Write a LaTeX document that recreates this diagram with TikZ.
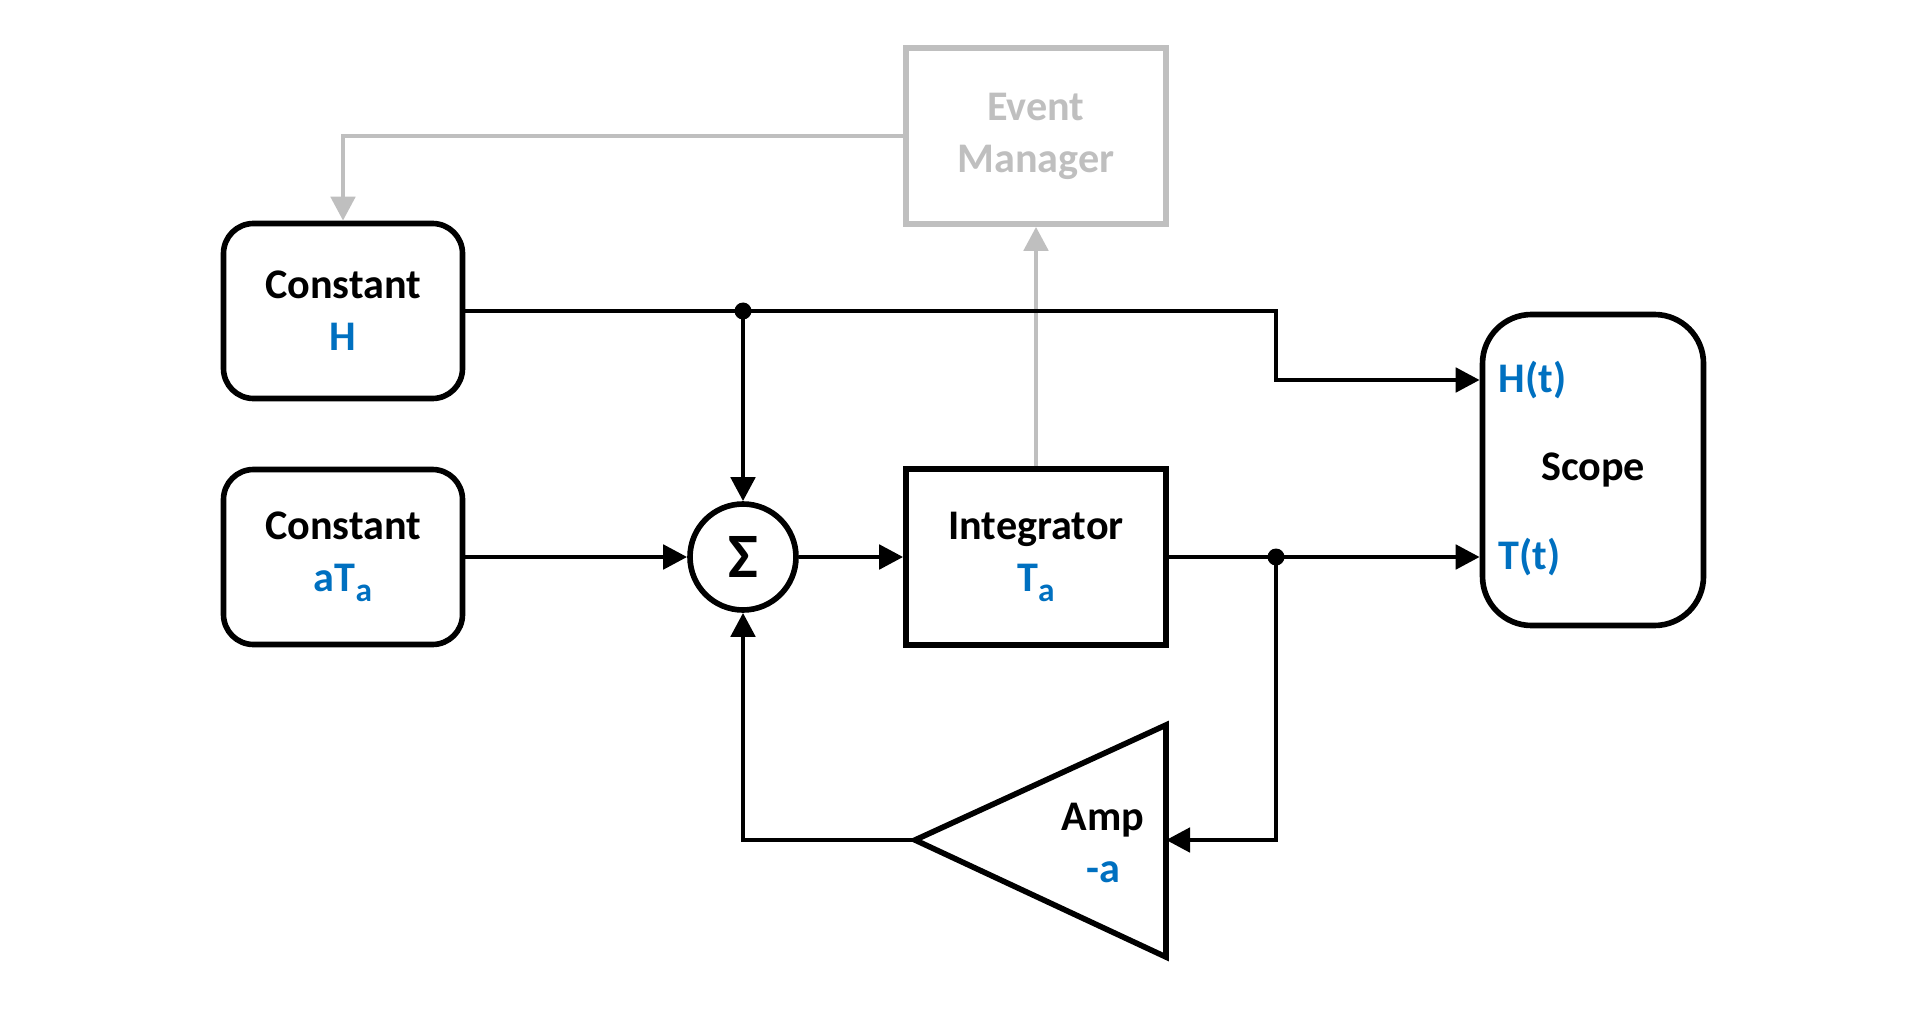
\documentclass[tikz,border=0pt]{standalone}
\usepackage{fontspec}
\setmainfont{Carlito}
\usepackage{xcolor}
\usepackage{tikz}
\usetikzlibrary{arrows.meta}

\definecolor{valblue}{RGB}{0,112,192}
\definecolor{evgray}{RGB}{191,191,191}
\newcommand{\blueval}[1]{\textcolor{valblue}{#1}}
\newcommand{\lowsub}[1]{\raisebox{-0.5ex}{\fontsize{9.5}{10}\selectfont #1}}

\begin{document}
\begin{tikzpicture}
    [line width=1.4pt,
    >={Triangle[length=2.4mm,width=2.4mm]},
    txt/.style = {align=center,
                font=\bfseries\fontsize{12}{14.8}\selectfont},
    block/.style = {txt, draw, line width=1.6pt,
                rounded corners=0.3cm,
                minimum width=2.39cm, minimum height=1.75cm},
    plain/.style = {txt, draw, line width=1.6pt,
                minimum width=2.6cm, minimum height=1.76cm},
    sum/.style = {circle, draw, line width=1.6pt, inner sep=0pt,
                minimum size=1.06cm,
                font=\bfseries\fontsize{18}{20}\selectfont},
    port/.style = {txt, text=valblue}]
    \useasboundingbox (0,0) rectangle (19.15,10.27);
    % Constant blocks
    \node[block] (cH) at (3.43,7.16) {Constant\\\blueval{H}};
    \node[block] (cT) at (3.43,4.70) {Constant\\\blueval{aT\lowsub{a}}};
    % Sum and integrator
    \node[sum] (sum) at (7.43,4.70) {Σ};
    \node[plain] (integ) at (10.36,4.70) {Integrator\\\blueval{T\lowsub{a}}};
    % Event manager
    \node[plain, draw=evgray, text=evgray] (em) at (10.36,8.91) {Event\\Manager};
    % Scope
    \node[block, rounded corners=0.49cm,
          minimum width=2.21cm, minimum height=3.11cm] (scope) at (15.93,5.57) {Scope};
    \coordinate (Hin) at (scope.west |- 0,6.47);
    \coordinate (Tin) at (scope.west |- 0,4.70);
    \node[port, anchor=west] (Hlbl) at ([xshift=0.05cm]Hin) {H(t)};
    \node[port, anchor=west] (Tlbl) at ([xshift=0.05cm]Tin) {T(t)};
    % Amp
    \coordinate (ampin) at (11.66,1.87);
    \coordinate (ampout) at (9.15,1.87);
    \draw[line width=1.6pt] (ampout) -- (11.66,3.02) -- (11.66,0.70) -- cycle;
    \node[txt] (amp) at (11.03,1.84) {Amp\\\blueval{-a}};
    % Event manager lines
    \draw[->, evgray] (integ.north) -- (em.south);
    \draw[->, evgray] (em.west) -| (cH.north);
    % Signal lines
    \coordinate (j1) at (sum |- cH);
    \coordinate (kH) at (12.76,6.47);
    \coordinate (j2) at (kH |- integ);
    \draw[->] (cH.east) -- (j1) -| (kH) -- (Hin);
    \draw[->] (j1) -- (sum.north);
    \fill (j1) circle (0.085);
    \draw[->] (cT.east) -- (sum.west);
    \draw[->] (sum.east) -- (integ.west);
    \draw[->] (integ.east) -- (Tin);
    \draw[->] (j2) |- (ampin);
    \fill (j2) circle (0.085);
    \draw[->] (ampout) -| (sum.south);
\end{tikzpicture}
\end{document}
